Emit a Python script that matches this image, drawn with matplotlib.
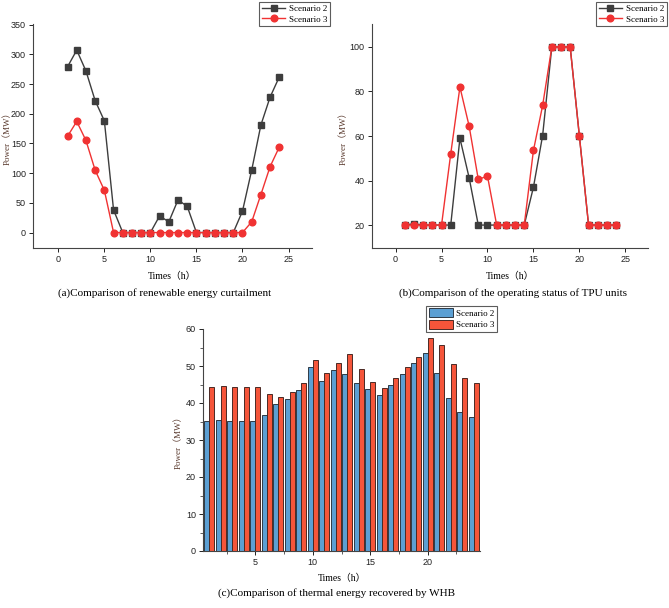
import numpy as np
import matplotlib
matplotlib.use("Agg")
import matplotlib.pyplot as plt
from matplotlib.ticker import MultipleLocator

hours = np.arange(1, 25)

# (a) renewable energy curtailment, MW
curt_s2 = [279, 307, 272, 222, 188, 38, 0, 0, 0, 0, 28, 18,
           55, 44, 0, 0, 0, 0, 0, 36, 105, 181, 228, 262]
curt_s3 = [162, 187, 155, 105, 71, 0, 0, 0, 0, 0, 0, 0,
           0, 0, 0, 0, 0, 0, 0, 0, 18, 64, 111, 144]

# (b) TPU output, MW
tpu_s2 = [20, 20.6, 20, 20, 20, 20, 59, 41.3, 20, 20, 20, 20,
          20, 20, 37, 60.2, 100, 100, 100, 60, 20, 20, 20, 20]
tpu_s3 = [20, 20, 20, 20, 20, 52, 82, 64.5, 40.5, 42, 20, 20,
          20, 20, 53.5, 73.7, 100, 100, 100, 60, 20, 20, 20, 20]

# (c) heat recovered by WHB, MW
whb_s2 = [35.1, 35.4, 35.1, 35.2, 35.1, 36.8, 39.7, 41.2, 43.5, 49.8, 45.9, 48.9,
          47.8, 45.5, 43.9, 42.2, 44.8, 47.8, 50.8, 53.5, 48.1, 41.4, 37.6, 36.3]
whb_s3 = [44.3, 44.6, 44.4, 44.4, 44.3, 42.3, 41.7, 43.1, 45.5, 51.6, 48.1, 50.8,
          53.2, 49.3, 45.8, 44.0, 46.7, 49.7, 52.5, 57.5, 55.8, 50.5, 46.7, 45.5]

W, H = 669, 608
serif = ["Liberation Serif", "Noto Sans CJK SC"]
plt.rcParams["font.family"] = ["Liberation Sans", "DejaVu Sans"]
plt.rcParams["xtick.labelsize"] = 6.5
plt.rcParams["ytick.labelsize"] = 6.5

fig = plt.figure(figsize=(W / 100, H / 100), dpi=100)


def box(l, t, r, b):
    return [l / W, 1 - b / H, (r - l) / W, (b - t) / H]


def style(ax):
    for s in ["top", "right"]:
        ax.spines[s].set_visible(False)
    for s in ["left", "bottom"]:
        ax.spines[s].set_color("#444444")
        ax.spines[s].set_linewidth(0.8)
    ax.tick_params(direction="out", length=3, width=0.7, colors="#222222", pad=2)
    ax.tick_params(which="minor", direction="out", length=2, width=0.6, colors="#444444")


def labels(ax, xlab_y, ylab_x):
    ax.set_xlabel("Times（h）", family=serif, fontsize=7)
    ax.set_ylabel("Power（MW）", family=serif, fontsize=6.5, color="#5a3a2e")
    ax.xaxis.set_label_coords(0.5, xlab_y)
    ax.yaxis.set_label_coords(ylab_x, 0.5)


def legend(ax, anchor, **kw):
    lg = ax.legend(loc="upper right", bbox_to_anchor=anchor, bbox_transform=fig.transFigure,
                   prop={"family": serif, "size": 6.5}, frameon=True, fancybox=False,
                   borderpad=0.3, labelspacing=0.25, handlelength=2.6, handletextpad=0.4,
                   borderaxespad=0, **kw)
    lg.get_frame().set_edgecolor("#333333")
    lg.get_frame().set_linewidth(0.8)
    return lg


black = "#3d3d3d"
red = "#f03232"

# (a)
ax1 = fig.add_axes(box(33, 24, 312, 248))
ax1.plot(hours, curt_s2, color=black, marker="s", ms=4.5, lw=1, label="Scenario 2")
ax1.plot(hours, curt_s3, color=red, marker="o", ms=4.8, lw=1, label="Scenario 3")
ax1.set_xlim(-2.75, 27.55)
ax1.set_ylim(-26, 351)
ax1.xaxis.set_major_locator(MultipleLocator(5))
ax1.yaxis.set_major_locator(MultipleLocator(50))
style(ax1)
labels(ax1, -0.105, -0.075)
legend(ax1, (330 / W, 1 - 2 / H))
fig.text(165 / W, 1 - 293 / H, "(a)Comparison of renewable energy curtailment",
         family=serif, fontsize=8, ha="center", va="center")

# (b)
ax2 = fig.add_axes(box(371.7, 24, 648.3, 248))
ax2.plot(hours, tpu_s2, color=black, marker="s", ms=4.5, lw=1, label="Scenario 2")
ax2.plot(hours, tpu_s3, color=red, marker="o", ms=4.8, lw=1, label="Scenario 3")
ax2.set_xlim(-2.6, 27.5)
ax2.set_ylim(9.7, 110.3)
ax2.xaxis.set_major_locator(MultipleLocator(5))
ax2.yaxis.set_major_locator(MultipleLocator(20))
style(ax2)
labels(ax2, -0.105, -0.087)
legend(ax2, (666.7 / W, 1 - 2 / H))
fig.text(513 / W, 1 - 293 / H, "(b)Comparison of the operating status of TPU units",
         family=serif, fontsize=8, ha="center", va="center")

# (c)
ax3 = fig.add_axes(box(203, 329, 480, 551))
bw = 0.42
ax3.bar(hours - bw / 2, whb_s2, width=bw, color="#5b9fd3", edgecolor="#2f3a45",
        linewidth=0.7, label="Scenario 2")
ax3.bar(hours + bw / 2, whb_s3, width=bw, color="#f5553a", edgecolor="#4a2a25",
        linewidth=0.7, label="Scenario 3")
ax3.set_xlim(0.45, 24.55)
ax3.set_ylim(0, 60)
ax3.xaxis.set_major_locator(MultipleLocator(5))
ax3.xaxis.set_minor_locator(MultipleLocator(2.5))
ax3.yaxis.set_major_locator(MultipleLocator(10))
ax3.yaxis.set_minor_locator(MultipleLocator(5))
style(ax3)
labels(ax3, -0.105, -0.074)
legend(ax3, (497.3 / W, 1 - 305.7 / H), handleheight=1.1)
fig.text(336 / W, 1 - 593 / H, "(c)Comparison of thermal energy recovered by WHB",
         family=serif, fontsize=8, ha="center", va="center")

fig.savefig("out.png", dpi=100)
